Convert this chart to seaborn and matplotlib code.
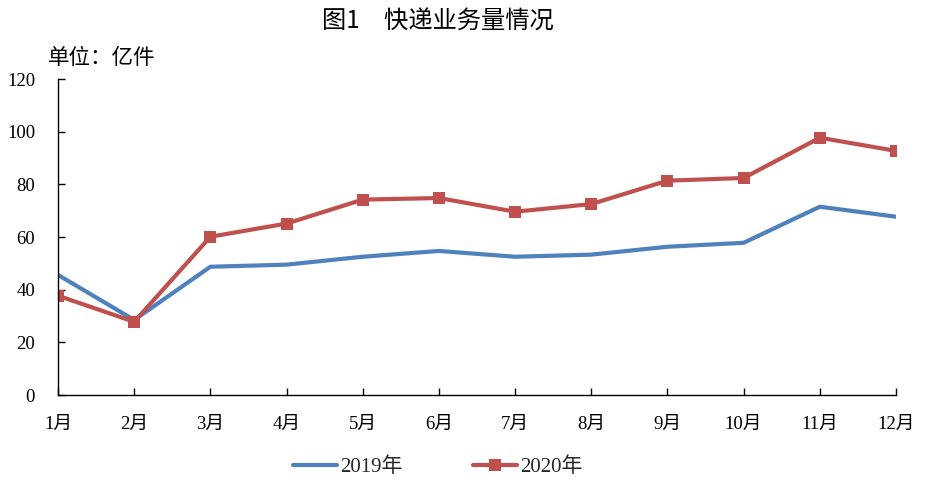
import matplotlib
matplotlib.use("Agg")
import matplotlib.pyplot as plt
import seaborn as sns
import pandas as pd

months = ["1月", "2月", "3月", "4月", "5月", "6月", "7月", "8月", "9月", "10月", "11月", "12月"]
v2019 = [45.6, 28.5, 48.7, 49.5, 52.5, 54.7, 52.5, 53.3, 56.3, 57.8, 71.5, 67.7]
v2020 = [37.7, 27.8, 60.1, 65.1, 74.2, 74.8, 69.6, 72.5, 81.4, 82.4, 97.7, 92.7]
yticks = [0, 20, 40, 60, 80, 100, 120]

sns.set_theme(style="white")
SERIF = ["Liberation Serif", "Noto Sans CJK SC"]
plt.rcParams["font.family"] = SERIF

fig = plt.figure(figsize=(9.29, 4.87), dpi=100)
ax = fig.add_axes([58/929, 1-395/487, (896-58)/929, (395-79)/487])

idx = list(range(len(months)))
df19 = pd.DataFrame({"x": idx, "y": v2019})
df20 = pd.DataFrame({"x": idx, "y": v2020})
sns.lineplot(data=df19, x="x", y="y", ax=ax, color="#4F81BD", linewidth=3.0,
             label="2019年")
sns.lineplot(data=df20, x="x", y="y", ax=ax, color="#C0504D", linewidth=3.0,
             marker="s", markersize=9, markeredgewidth=0, label="2020年")

ax.set_xlim(0, 11)
ax.set_ylim(0, 120)
ax.set_yticks(yticks)
ax.set_yticklabels([str(t) for t in yticks], fontsize=13.5, family=SERIF)
ax.set_xticks(idx)
ax.set_xticklabels(months, fontsize=13.5, family=SERIF)
ax.set_xlabel("")
ax.set_ylabel("")
for s in ["top", "right"]:
    ax.spines[s].set_visible(False)
for s in ["left", "bottom"]:
    ax.spines[s].set_color("black")
    ax.spines[s].set_linewidth(1.0)
ax.tick_params(axis="both", direction="in", length=5, width=1, colors="black",
               labelcolor="black", left=True, bottom=True)
ax.tick_params(axis="y", pad=16.5)
ax.tick_params(axis="x", pad=15)

fig.text(438/929, 1-22/487, "图1　快递业务量情况", ha="center", va="center",
         fontsize=17.5, family=["Noto Sans CJK SC", "DejaVu Sans"], color="black")
fig.text(48/929, 1-58/487, "单位：亿件", ha="left", va="center",
         fontsize=15.5, family=["Noto Sans CJK SC", "DejaVu Sans"], color="black")

leg = ax.legend(loc="center", bbox_to_anchor=(438/929, 1-467/487),
                bbox_transform=fig.transFigure, ncol=2, frameon=False,
                prop={"family": SERIF, "size": 15}, handlelength=2.1,
                columnspacing=3.4, handletextpad=0.15)

fig.savefig("out.png", dpi=100, facecolor="white")
